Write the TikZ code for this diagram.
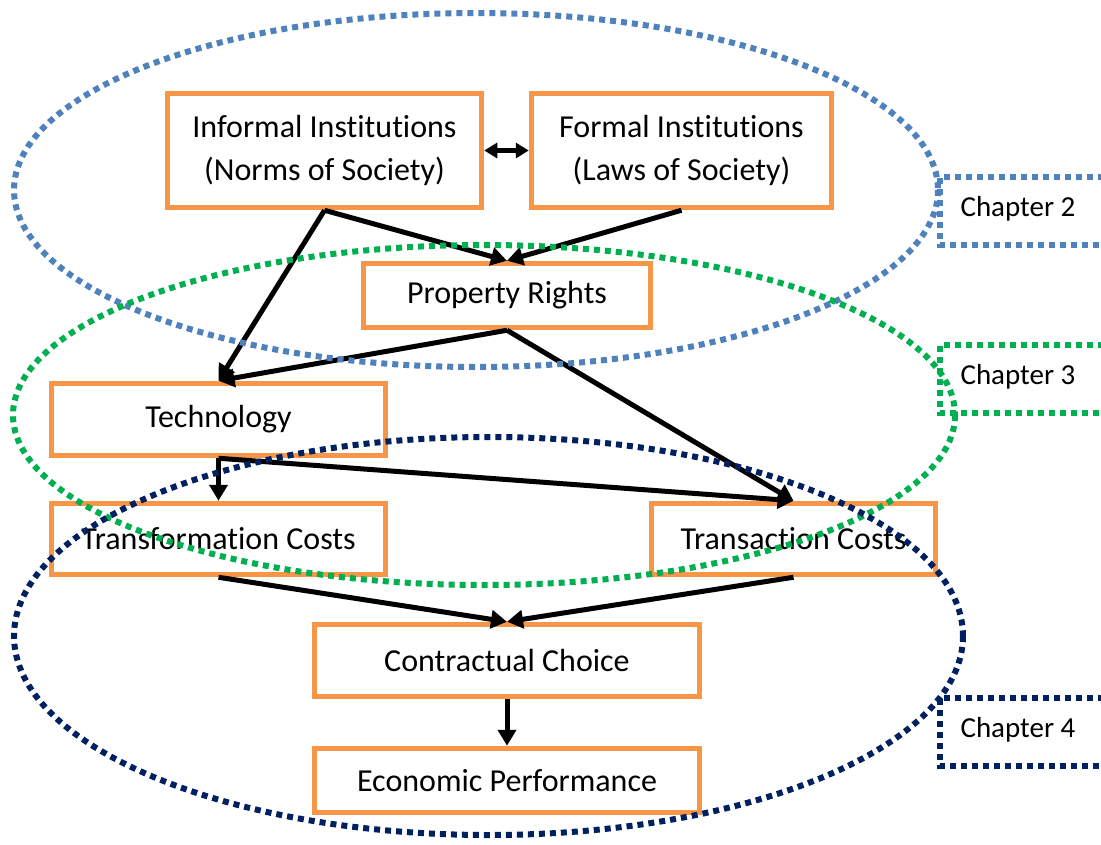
\documentclass[tikz,border=0pt]{standalone}
\usepackage{fontspec}
\setmainfont[Ligatures=NoCommon]{Carlito}
\usetikzlibrary{arrows.meta}

\definecolor{boxorange}{HTML}{F79646}
\definecolor{chblue}{HTML}{4F81BD}
\definecolor{chgreen}{HTML}{00B050}
\definecolor{chnavy}{HTML}{002060}

\begin{document}
\begin{tikzpicture}[x=1pt,y=-1pt,
  every node/.style={text=black},
  stage/.style={draw=boxorange, line width=5.5pt, rectangle, inner sep=0pt,
                align=center, font=\fontsize{32}{43}\selectfont},
  flow/.style={line width=5pt, line join=miter,
               -{Triangle[length=16pt,width=18pt]}},
  both/.style={line width=4.5pt,
               {Triangle[length=13pt,width=15pt]}-{Triangle[length=13pt,width=15pt]}},
  ring/.style={line width=6pt, dash pattern=on 6pt off 5pt},
  chlabel/.style={inner sep=0pt, font=\fontsize{29}{35}\selectfont}
]
\useasboundingbox (0,0) rectangle (1101,844);
\clip (0,0) rectangle (1101,844);

% institutional stages
\node[stage, minimum width=314pt, minimum height=114pt] (inf) at (324.5,150.5)
  {Informal Institutions\\(Norms of Society)};
\node[stage, minimum width=300pt, minimum height=114pt] (frm) at (681.5,150.5)
  {Formal Institutions\\(Laws of Society)};
\node[stage, minimum width=287pt, minimum height=64pt] (pr) at (507,295.5)
  {Property Rights};
\node[stage, minimum width=334pt, minimum height=72pt] (tech) at (218.5,419.5)
  {Technology};
\node[stage, minimum width=334pt, minimum height=71pt] (trf) at (218.5,539)
  {Transformation Costs};
\node[stage, minimum width=284pt, minimum height=71pt] (trc) at (793.5,539)
  {Transaction Costs};
\node[stage, minimum width=385pt, minimum height=72pt] (cc) at (507,660.5)
  {Contractual Choice};
\node[stage, minimum width=385pt, minimum height=64pt] (ep) at (507,780.5)
  {Economic Performance};

% causal links
\draw[both] (inf.east) -- (frm.west);
\draw[flow] (inf.south) -- (pr.north);
\draw[flow] (frm.south) -- (pr.north);
\draw[flow] (inf.south) -- (tech.north);
\draw[flow] (pr.south) -- (tech.north);
\draw[flow] (pr.south) -- (trc.north);
\draw[flow] (tech.south) -- (trf.north);
\draw[flow] (tech.south) -- (trc.north);
\draw[flow] (trf.south) -- (cc.north);
\draw[flow] (trc.south) -- (cc.north);
\draw[flow] (cc.south) -- (ep.north);

% chapter groupings
\draw[ring, chblue]  (476,190) ellipse [x radius=462, y radius=177];
\draw[ring, chgreen] (484,415) ellipse [x radius=471, y radius=170];
\draw[ring, chnavy]  (488.5,636) ellipse [x radius=474.5, y radius=199];

% chapter tags
\node[chlabel] (ch2) at (1018,209) {Chapter 2};
\node[chlabel] (ch3) at (1018,377) {Chapter 3};
\node[chlabel] (ch4) at (1018,730) {Chapter 4};
\draw[ring, chblue]  (1115,177) -| (940,245) -- (1115,245);
\draw[ring, chgreen] (1115,345) -| (940,413) -- (1115,413);
\draw[ring, chnavy]  (1115,698) -| (940,766) -- (1115,766);
\end{tikzpicture}
\end{document}
